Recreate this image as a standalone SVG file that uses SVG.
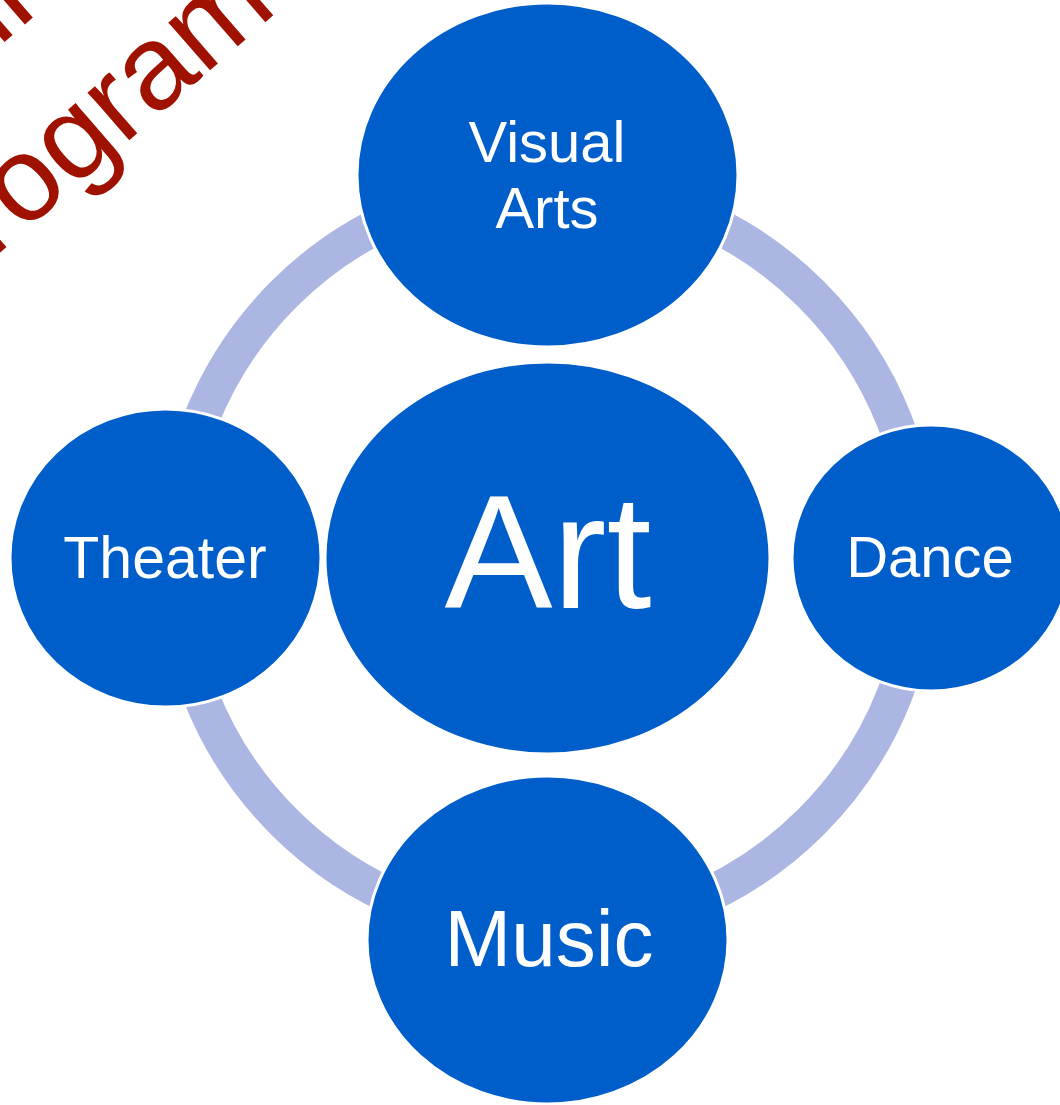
<svg xmlns="http://www.w3.org/2000/svg" width="1060" height="1105" viewBox="0 0 1060 1105">
  <style>
    .node { fill: #005ECA; stroke: #FFFFFF; stroke-width: 3; }
    .label { fill: #FFFFFF; font-family: "Liberation Sans", Arial, sans-serif; text-anchor: middle; }
    .ring { fill: none; stroke: #ABB6E2; stroke-width: 36; }
    .title { fill: #A01200; font-family: "Liberation Sans", Arial, sans-serif; font-size: 120px; }
  </style>
  <rect x="0" y="0" width="1060" height="1105" fill="#FFFFFF"/>
  <g id="title" transform="translate(-68.2,312) rotate(-41)">
    <text class="title" x="224" y="-156">ll</text>
    <text class="title" x="0" y="0">Program</text>
  </g>
  <g id="connectors">
    <circle class="ring" cx="547.5" cy="558" r="373"/>
  </g>
  <g id="node-art">
    <ellipse class="node" cx="547.5" cy="558" rx="222.5" ry="196"/>
    <text class="label" x="548" y="608" font-size="162">Art</text>
  </g>
  <g id="node-visual-arts">
    <ellipse class="node" cx="547.5" cy="175" rx="190.5" ry="172"/>
    <text class="label" x="547" y="162" font-size="58">Visual</text>
    <text class="label" x="547" y="228" font-size="58">Arts</text>
  </g>
  <g id="node-theater">
    <ellipse class="node" cx="165.5" cy="558" rx="155.5" ry="149"/>
    <text class="label" x="165" y="578" font-size="59">Theater</text>
  </g>
  <g id="node-dance">
    <ellipse class="node" cx="931" cy="558" rx="139" ry="133"/>
    <text class="label" x="930" y="577" font-size="58">Dance</text>
  </g>
  <g id="node-music">
    <ellipse class="node" cx="547.5" cy="940" rx="180.5" ry="164"/>
    <text class="label" x="549" y="966" font-size="80">Music</text>
  </g>
</svg>
